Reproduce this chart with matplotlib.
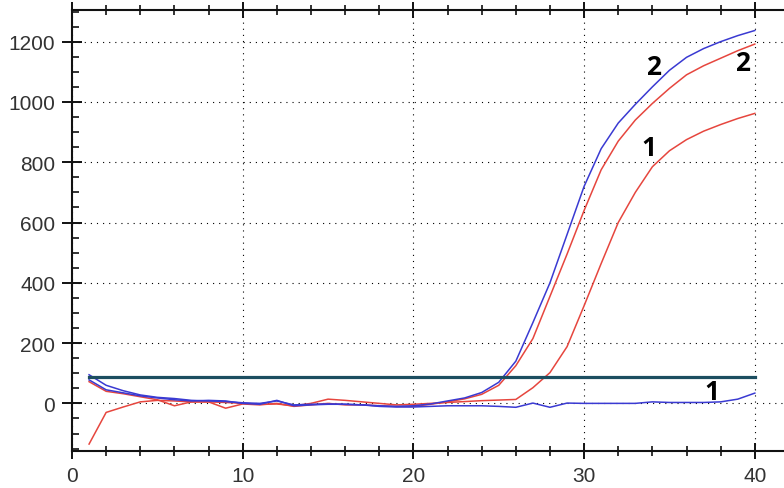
import matplotlib
matplotlib.use("Agg")
import matplotlib.pyplot as plt
from matplotlib.ticker import MultipleLocator

cycles = list(range(1, 41))

blue2 = [95, 60, 42, 28, 20, 16, 10, 8, 6, 2, 0, 8, -5, -3, -2, -3, -5, -8, -10, -8,
         -2, 8, 18, 36, 70, 140, 268, 400, 560, 720, 845, 930, 992, 1050, 1105, 1148,
         1177, 1200, 1220, 1237]
red2 = [72, 40, 32, 22, 12, -8, 5, 5, -16, -2, -5, 0, -10, -5, 0, -5, -5, -8, -10, -10,
        -3, 5, 15, 30, 60, 125, 215, 355, 495, 640, 775, 870, 940, 995, 1045, 1090,
        1120, 1145, 1170, 1192]
red1 = [-135, -30, -12, 5, 10, 8, 5, 5, 3, 0, -3, -2, -8, 0, 14, 10, 5, 0, -5, -3,
        0, 3, 6, 9, 11, 13, 52, 102, 188, 324, 464, 600, 700, 785, 838, 875, 903, 925,
        945, 962]
blue1 = [78, 45, 35, 25, 18, 12, 8, 10, 8, 0, -3, 10, -8, -5, -3, -3, -5, -10, -12, -12,
         -10, -8, -8, -8, -10, -13, 1, -13, 1, 0, 0, 0, 0, 5, 3, 3, 3, 5, 14, 34]

threshold_x = [1, 40]
threshold_y = [86, 86]

labels_text = ["2", "2", "1", "1"]
labels_x = [34.05, 39.28, 33.8, 37.47]
labels_y = [1116, 1131, 849, 41]

xticks = [0, 10, 20, 30, 40]
yticks = [0, 200, 400, 600, 800, 1000, 1200]

fig = plt.figure(figsize=(7.84, 4.89), dpi=100)
ax = fig.add_axes([72 / 784, 1 - 452 / 489, (784 - 72) / 784, (452 - 11) / 489])

blue = "#3a3ad2"
red = "#e6463e"
ax.plot(cycles, red1, color=red, lw=1.1, zorder=3)
ax.plot(cycles, red2, color=red, lw=1.1, zorder=3)
ax.plot(cycles, blue1, color=blue, lw=1.1, zorder=4)
ax.plot(cycles, blue2, color=blue, lw=1.1, zorder=4)
ax.plot(threshold_x, threshold_y, color="#1c4e60", lw=2.3, zorder=5)

for t, x, y in zip(labels_text, labels_x, labels_y):
    ax.text(x, y, t, fontsize=19, fontweight="bold", family=["Open Sans", "DejaVu Sans"],
            ha="center", va="center", color="black", zorder=6)

ax.set_xlim(0, 41.71)
ax.set_ylim(-158, 1305)
ax.set_xticks(xticks)
ax.set_yticks(yticks)
ax.xaxis.set_minor_locator(MultipleLocator(2))
ax.yaxis.set_minor_locator(MultipleLocator(50))

ax.grid(True, which="major", color="black", linestyle=(0, (1, 4.5)), lw=0.8)

for s in ["left", "bottom", "top"]:
    ax.spines[s].set_linewidth(1.5)
    ax.spines[s].set_color("#111111")
ax.spines["right"].set_visible(False)

ax.tick_params(axis="both", which="major", labelsize=15, labelcolor="#333333",
               color="#111111", width=1.4)
ax.tick_params(axis="x", which="major", direction="inout", length=12, top=True,
               pad=5)
ax.tick_params(axis="y", which="major", direction="inout", length=14, pad=5)
ax.tick_params(axis="x", which="minor", direction="inout", length=7, top=True,
               width=1.2, color="#111111")
ax.tick_params(axis="y", which="minor", direction="in", length=5, width=1.2,
               color="#111111")
for lab in ax.get_xticklabels() + ax.get_yticklabels():
    lab.set_family(["Liberation Sans", "DejaVu Sans"])

fig.savefig("out.png", dpi=100)
